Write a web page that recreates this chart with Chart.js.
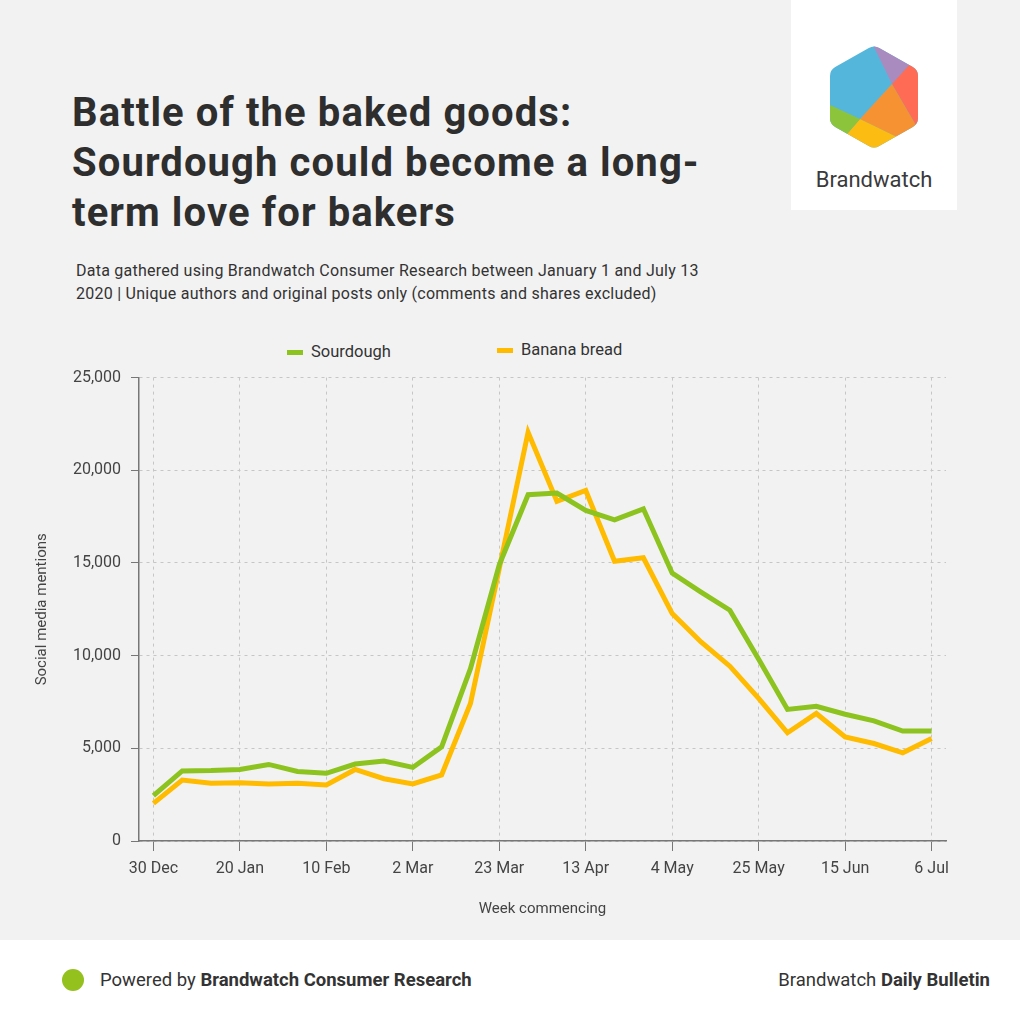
<!DOCTYPE html>
<html>
<head>
<meta charset="utf-8">
<script src="https://cdn.jsdelivr.net/npm/chart.js@4"></script>
<style>
  html, body { margin: 0; padding: 0; }
  body { width: 1020px; height: 1020px; position: relative; background: #f2f2f2; font-family: Roboto, sans-serif; color: #333; overflow: hidden; }
  .logo-box { position: absolute; left: 791px; top: 0; width: 166px; height: 210px; background: #fff; }
  .logo-box svg { position: absolute; left: 35px; top: 43px; }
  .logo-box .name { position: absolute; left: 0; width: 166px; top: 167px; text-align: center; font-size: 22px; color: #3a3a3a; }
  h1 { position: absolute; left: 72px; top: 88px; margin: 0; font-size: 40px; line-height: 50px; font-weight: 700; letter-spacing: 1.1px; color: #2e2e2e; }
  .sub { position: absolute; left: 76px; top: 259px; font-size: 16px; line-height: 23px; letter-spacing: 0.25px; color: #333; }
  .legend { position: absolute; top: 342px; font-size: 16.5px; color: #333; }
  .legend span.box { display: inline-block; width: 16px; height: 5px; margin-right: 8px; vertical-align: middle; }
  #wrap { position: absolute; left: 20px; top: 358px; width: 960px; height: 564px; }
  .footer { position: absolute; left: 0; top: 940px; width: 1020px; height: 80px; background: #fff; }
  .footer .dot { position: absolute; left: 62px; top: 29px; width: 22px; height: 22px; border-radius: 50%; background: #95c11f; }
  .footer .left { position: absolute; left: 100px; top: 29px; font-size: 18.5px; color: #333; }
  .footer .right { position: absolute; right: 30px; top: 29px; font-size: 18.5px; color: #333; }
</style>
</head>
<body>
<div class="logo-box">
  <svg width="96" height="108" viewBox="0 0 96 108">
    <defs>
      <clipPath id="hex">
        <path d="M42.8,5 Q48,2 53.2,5 L86.8,24 Q92,27 92,33 L92,75 Q92,81 86.8,84 L53.2,103 Q48,106 42.8,103 L9.2,84 Q4,81 4,75 L4,33 Q4,27 9.2,24 Z"/>
      </clipPath>
    </defs>
    <g clip-path="url(#hex)">
      <rect x="0" y="0" width="96" height="108" fill="#55b6dc"/>
      <polygon points="46,0 103,0 66,41" fill="#a98bbf"/>
      <polygon points="66,41 103,0 120,0 120,108 105,108" fill="#ff6b55"/>
      <polygon points="66,41 105,108 71,94 34,76" fill="#f79232"/>
      <polygon points="34,76 71,94 71,112 48,112 21,91" fill="#fdbc11"/>
      <polygon points="0,60 34,76 21,91 0,91" fill="#8cc43c"/>
    </g>
  </svg>
  <div class="name">Brandwatch</div>
</div>

<h1>Battle of the baked goods:<br>Sourdough could become a long-<br>term love for bakers</h1>
<div class="sub">Data gathered using Brandwatch Consumer Research between January 1 and July 13<br>2020 | Unique authors and original posts only (comments and shares excluded)</div>

<div class="legend" style="left:287px"><span class="box" style="background:#8cc31e"></span>Sourdough</div>
<div class="legend" style="left:497px; top:340px"><span class="box" style="background:#ffbb00"></span>Banana bread</div>

<div id="wrap"><canvas id="chart"></canvas></div>

<div class="footer">
  <div class="dot"></div>
  <div class="left">Powered by <b>Brandwatch Consumer Research</b></div>
  <div class="right">Brandwatch <b>Daily Bulletin</b></div>
</div>

<script>
// semaines (lundi) du 30 déc. 2019 au 6 juil. 2020
const weeks = ['30 Dec','6 Jan','13 Jan','20 Jan','27 Jan','3 Feb','10 Feb','17 Feb','24 Feb',
  '2 Mar','9 Mar','16 Mar','23 Mar','30 Mar','6 Apr','13 Apr','20 Apr','27 Apr','4 May',
  '11 May','18 May','25 May','1 Jun','8 Jun','15 Jun','22 Jun','29 Jun','6 Jul'];

const sourdough = [2450, 3780, 3800, 3860, 4130, 3750, 3650, 4150, 4310, 3970, 5080,
  9300, 14900, 18680, 18770, 17830, 17330, 17920, 14450, 13430, 12450,
  9800, 7100, 7270, 6840, 6480, 5930, 5930];

const bananaBread = [2030, 3290, 3110, 3140, 3070, 3110, 3020, 3860, 3360, 3080, 3560,
  7420, 14700, 22050, 18320, 18910, 15090, 15280, 12270, 10740, 9430,
  7690, 5840, 6880, 5620, 5260, 4760, 5530];

const yTicks = [0, 5000, 10000, 15000, 20000, 25000];

const green  = '#8cc31e';
const yellow = '#ffbb00';
const axisCol = '#777';
const gridCol = '#c6c6c6';
const tickFont = { family: 'Roboto', size: 16 };

// une étiquette (et une ligne de grille) toutes les trois semaines
const shown = i => i % 3 === 0;

new Chart(document.getElementById('chart'), {
  type: 'line',
  data: {
    labels: weeks,
    datasets: [
      { label: 'Sourdough', data: sourdough, borderColor: green, borderWidth: 5, pointRadius: 0, tension: 0, fill: false },
      { label: 'Banana bread', data: bananaBread, borderColor: yellow, borderWidth: 5, pointRadius: 0, tension: 0, fill: false }
    ]
  },
  options: {
    responsive: true,
    maintainAspectRatio: false,
    animation: false,
    layout: { padding: { top: 15, right: 34, left: 0, bottom: 0 } },
    plugins: { legend: { display: false }, tooltip: { enabled: false } },
    scales: {
      x: {
        offset: true,
        afterFit: s => { s.height = 81; },
        border: { color: axisCol, width: 1.5, dash: [3, 4] },
        grid: {
          offset: false,
          color: c => shown(c.index) ? gridCol : 'transparent',
          tickColor: c => shown(c.index) ? axisCol : 'transparent',
          tickBorderDash: [],
          tickLength: 10
        },
        ticks: {
          autoSkip: false,
          maxRotation: 0,
          padding: 8,
          color: '#444',
          font: tickFont,
          callback: (v, i) => shown(i) ? weeks[i] : ''
        },
        title: { display: true, text: 'Week commencing', color: '#444', font: { family: 'Roboto', size: 15 }, padding: { top: 8 } }
      },
      y: {
        min: 0,
        max: 25000,
        afterFit: s => { s.width = 119; },
        afterBuildTicks: s => { s.ticks = yTicks.map(v => ({ value: v })); },
        border: { color: axisCol, width: 1.5, dash: [3, 4] },
        grid: { color: gridCol, tickColor: axisCol, tickBorderDash: [], tickLength: 8 },
        ticks: {
          padding: 10,
          color: '#444',
          font: tickFont,
          callback: v => v.toLocaleString('en-US')
        },
        title: { display: true, text: 'Social media mentions', color: '#444', font: { family: 'Roboto', size: 15 }, padding: { top: 13, bottom: 0 } }
      }
    }
  }
});
</script>
</body>
</html>
